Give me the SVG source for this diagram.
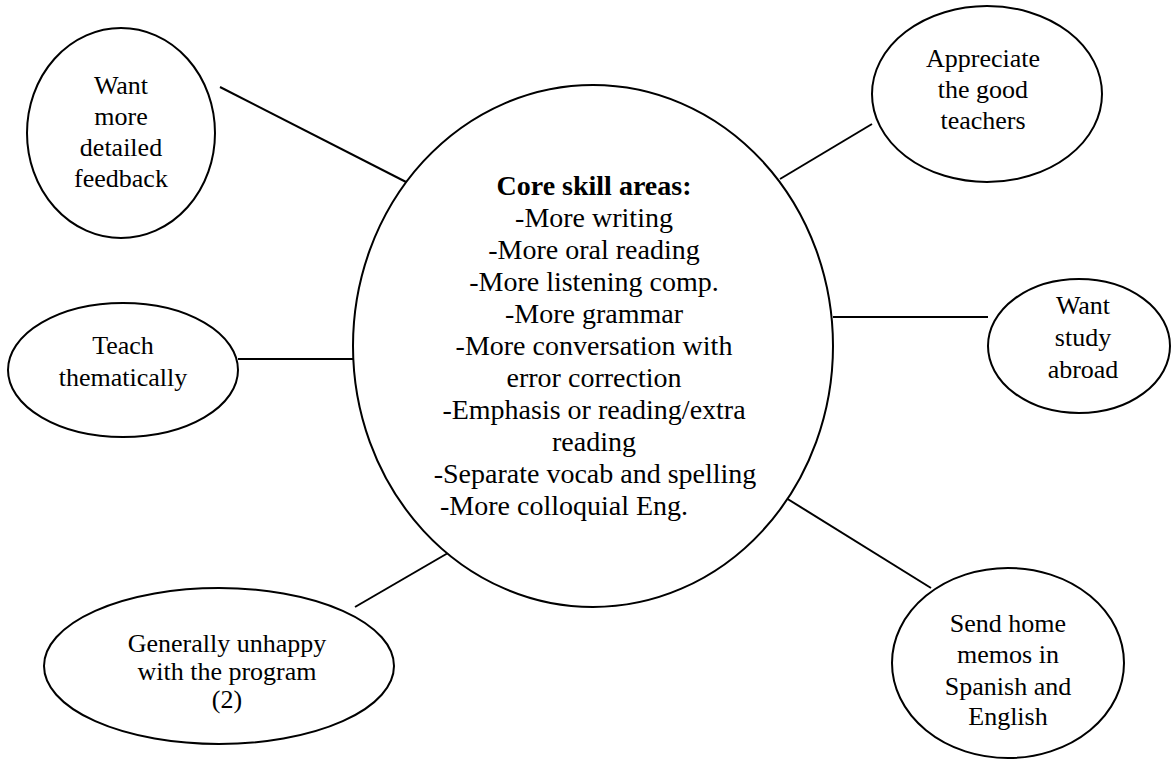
<svg xmlns="http://www.w3.org/2000/svg" width="1172" height="761" viewBox="0 0 1172 761">
  <style>
    .shape { fill: #ffffff; stroke: #000000; stroke-width: 2; }
    .link { stroke: #000000; stroke-width: 2; fill: none; }
    text { font-family: "Liberation Serif", "Times New Roman", serif; fill: #000000; text-anchor: middle; }
    .small { font-size: 26px; }
    .core { font-size: 28px; }
    .title { font-weight: bold; }
  </style>
  <rect width="1172" height="761" fill="#ffffff"/>

  <!-- connectors between the central circle and the outer ovals -->
  <g id="connectors">
    <line class="link" x1="220" y1="87" x2="410" y2="184"/>
    <line class="link" x1="780" y1="179" x2="872" y2="124"/>
    <line class="link" x1="833" y1="317" x2="988" y2="317"/>
    <line class="link" x1="238" y1="359" x2="353" y2="359"/>
    <line class="link" x1="355" y1="607" x2="448" y2="553"/>
    <line class="link" x1="778" y1="493" x2="931" y2="588"/>
  </g>

  <g id="core">
    <ellipse class="shape" cx="593" cy="346" rx="240" ry="261"/>
    <text class="core title" x="594" y="195">Core skill areas:</text>
    <text class="core" x="594" y="227">-More writing</text>
    <text class="core" x="594" y="259">-More oral reading</text>
    <text class="core" x="594" y="291">-More listening comp.</text>
    <text class="core" x="594" y="323">-More grammar</text>
    <text class="core" x="594" y="355">-More conversation with</text>
    <text class="core" x="594" y="387">error correction</text>
    <text class="core" x="594" y="419">-Emphasis or reading/extra</text>
    <text class="core" x="594" y="451">reading</text>
    <text class="core" x="595" y="483">-Separate vocab and spelling</text>
    <text class="core" x="440" y="515" style="text-anchor:start">-More colloquial Eng.</text>
  </g>

  <g id="feedback">
    <ellipse class="shape" cx="121" cy="133" rx="94" ry="105"/>
    <text class="small" x="121" y="94">Want</text>
    <text class="small" x="121" y="125">more</text>
    <text class="small" x="121" y="156">detailed</text>
    <text class="small" x="121" y="187">feedback</text>
  </g>

  <g id="teachers">
    <ellipse class="shape" cx="987" cy="94" rx="115" ry="88"/>
    <text class="small" x="983" y="67">Appreciate</text>
    <text class="small" x="983" y="98">the good</text>
    <text class="small" x="983" y="129">teachers</text>
  </g>

  <g id="abroad">
    <ellipse class="shape" cx="1079" cy="346" rx="91" ry="67"/>
    <text class="small" x="1083" y="314">Want</text>
    <text class="small" x="1083" y="346">study</text>
    <text class="small" x="1083" y="378">abroad</text>
  </g>

  <g id="thematic">
    <ellipse class="shape" cx="123" cy="370" rx="115" ry="67"/>
    <text class="small" x="123" y="354">Teach</text>
    <text class="small" x="123" y="386">thematically</text>
  </g>

  <g id="unhappy">
    <ellipse class="shape" cx="219" cy="666" rx="175" ry="78"/>
    <text class="small" x="227" y="652">Generally unhappy</text>
    <text class="small" x="227" y="680">with the program</text>
    <text class="small" x="227" y="708">(2)</text>
  </g>

  <g id="memos">
    <ellipse class="shape" cx="1008" cy="663" rx="116" ry="95"/>
    <text class="small" x="1008" y="632">Send home</text>
    <text class="small" x="1008" y="663">memos in</text>
    <text class="small" x="1008" y="695">Spanish and</text>
    <text class="small" x="1008" y="725">English</text>
  </g>
</svg>
